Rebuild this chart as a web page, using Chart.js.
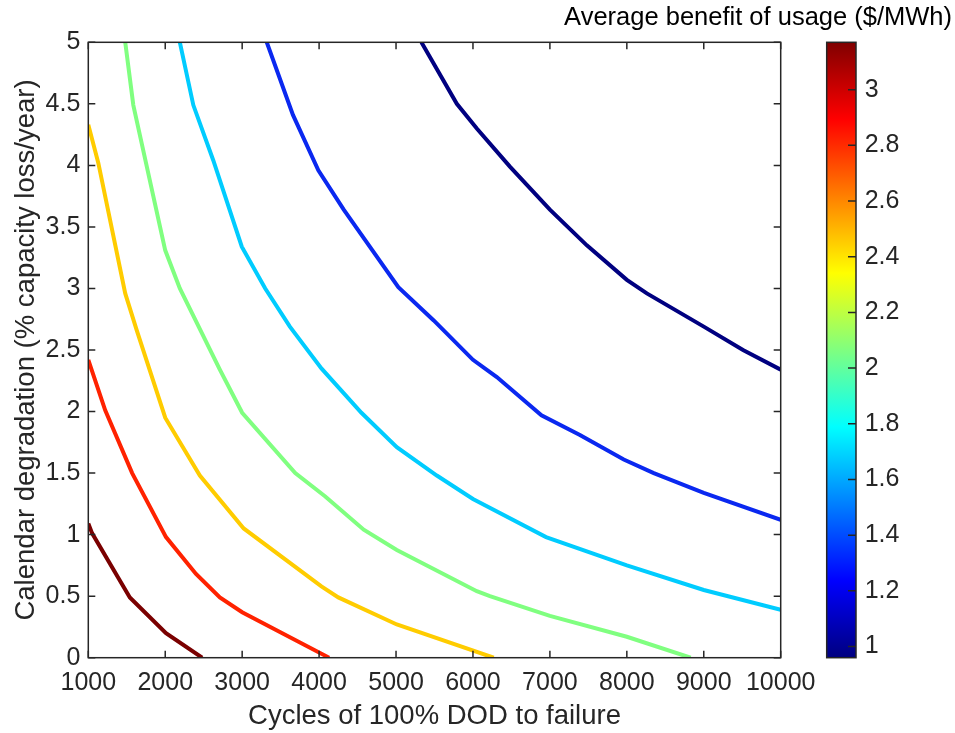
<!DOCTYPE html>
<html lang="en">
<head>
    <meta charset="UTF-8">
    <title>Average benefit of usage contours</title>
    <script src="https://cdn.jsdelivr.net/npm/chart.js"></script>
    <style>
        body { margin: 0; background: #fff; }
        #wrap { width: 955px; height: 733px; }
    </style>
</head>
<body>
    <div id="wrap"><canvas id="myChart" width="955" height="733"></canvas></div>

    <script>
        // Contour lines (x = cycles, y = % loss/year)
        const lvl100X = [5330, 5790, 6050, 6480, 7000, 7480, 8000, 8260, 9000, 9510, 10000];
        const lvl100Y = [5.0, 4.50, 4.30, 3.99, 3.64, 3.35, 3.07, 2.96, 2.69, 2.50, 2.34];

        const lvl135X = [3320, 3660, 3990, 4320, 5030, 5490, 6000, 6310, 6890, 7390, 7960, 8350, 9000, 10000];
        const lvl135Y = [5.0, 4.41, 3.96, 3.64, 3.01, 2.74, 2.42, 2.28, 1.97, 1.81, 1.61, 1.50, 1.34, 1.12];

        const lvl170X = [2190, 2365, 2625, 2995, 3300, 3620, 4030, 4550, 5010, 5530, 6000, 6950, 8000, 9000, 10000];
        const lvl170Y = [5.0, 4.49, 4.04, 3.34, 3.0, 2.69, 2.35, 1.99, 1.71, 1.48, 1.29, 0.98, 0.75, 0.55, 0.39];

        const lvl205X = [1480, 1585, 2000, 2190, 2710, 3000, 3690, 4080, 4580, 5010, 6050, 6220, 7000, 8000, 8830];
        const lvl205Y = [5.0, 4.49, 3.31, 3.0, 2.34, 1.99, 1.50, 1.31, 1.04, 0.875, 0.54, 0.50, 0.34, 0.17, 0.0];

        const lvl240X = [1000, 1130, 1480, 1630, 2000, 2450, 3020, 4030, 4250, 5010, 6270];
        const lvl240Y = [4.33, 4.02, 2.96, 2.66, 1.95, 1.48, 1.05, 0.58, 0.49, 0.27, 0.0];

        const lvl275X = [1000, 1220, 1570, 2010, 2400, 2710, 3000, 4130];
        const lvl275Y = [2.42, 2.01, 1.50, 0.98, 0.68, 0.49, 0.37, 0.0];

        const lvl310X = [1000, 1050, 1540, 2010, 2480];
        const lvl310Y = [1.09, 1.01, 0.49, 0.20, 0.0];

        const lineColors = ['#000080', '#0a28f0', '#00ccff', '#80ff80', '#ffcc00', '#ff2200', '#7a0000'];

        // colorbar
        const cbMin = 0.96;
        const cbMax = 3.17;
        const cbTicks = [1, 1.2, 1.4, 1.6, 1.8, 2, 2.2, 2.4, 2.6, 2.8, 3];
        const xTicks = [1000, 2000, 3000, 4000, 5000, 6000, 7000, 8000, 9000, 10000];
        const yTicks = [0, 0.5, 1, 1.5, 2, 2.5, 3, 3.5, 4, 4.5, 5];

        const axisColor = '#262626';

        function toPoints(xs, ys) {
            return xs.map((x, i) => ({ x: x, y: ys[i] }));
        }

        const series = [
            [lvl100X, lvl100Y], [lvl135X, lvl135Y], [lvl170X, lvl170Y], [lvl205X, lvl205Y],
            [lvl240X, lvl240Y], [lvl275X, lvl275Y], [lvl310X, lvl310Y]
        ];

        const datasets = series.map((s, i) => ({
            data: toPoints(s[0], s[1]),
            borderColor: lineColors[i],
            borderWidth: 4,
            pointRadius: 0,
            showLine: true,
            tension: 0,
            clip: 0
        }));

        // frame, inward ticks, colorbar and its label
        const matlabAxes = {
            id: 'matlabAxes',
            afterDraw(chart) {
                const c = chart.ctx;
                const a = chart.chartArea;
                const xs = chart.scales.x, ys = chart.scales.y, cb = chart.scales.cb;
                c.save();
                c.strokeStyle = axisColor;
                c.lineWidth = 1.5;
                c.strokeRect(a.left, a.top, a.right - a.left, a.bottom - a.top);
                c.beginPath();
                xTicks.forEach(v => {
                    const p = xs.getPixelForValue(v);
                    c.moveTo(p, a.bottom); c.lineTo(p, a.bottom - 7);
                    c.moveTo(p, a.top); c.lineTo(p, a.top + 7);
                });
                yTicks.forEach(v => {
                    const p = ys.getPixelForValue(v);
                    c.moveTo(a.left, p); c.lineTo(a.left + 7, p);
                    c.moveTo(a.right, p); c.lineTo(a.right - 7, p);
                });
                c.stroke();

                // colorbar (jet)
                const bx = cb.left + 46, bw = 29.3;
                const top = cb.getPixelForValue(cbMax), bot = cb.getPixelForValue(cbMin);
                const g = c.createLinearGradient(0, bot, 0, top);
                g.addColorStop(0, 'rgb(0,0,128)');
                g.addColorStop(0.125, 'rgb(0,0,255)');
                g.addColorStop(0.375, 'rgb(0,255,255)');
                g.addColorStop(0.625, 'rgb(255,255,0)');
                g.addColorStop(0.875, 'rgb(255,0,0)');
                g.addColorStop(1, 'rgb(128,0,0)');
                c.fillStyle = g;
                c.fillRect(bx, top, bw, bot - top);
                c.strokeRect(bx, top, bw, bot - top);
                c.beginPath();
                cbTicks.forEach(v => {
                    const p = cb.getPixelForValue(v);
                    c.moveTo(bx + bw, p); c.lineTo(bx + bw - 8, p);
                });
                c.stroke();

                c.fillStyle = '#000';
                c.font = '25.5px "Liberation Sans", Arial, sans-serif';
                c.textAlign = 'right';
                c.textBaseline = 'alphabetic';
                c.fillText('Average benefit of usage ($/MWh)', 952, 25);
                c.restore();
            }
        };

        const tickFont = { family: '"Liberation Sans", Arial, sans-serif', size: 25 };
        const titleFont = { family: '"Liberation Sans", Arial, sans-serif', size: 27.5 };

        const ctx = document.getElementById('myChart').getContext('2d');
        const myChart = new Chart(ctx, {
            type: 'scatter',
            data: { datasets: datasets },
            plugins: [matlabAxes],
            options: {
                responsive: false,
                animation: false,
                events: [],
                layout: { padding: { top: 42.3, right: 0, bottom: 0, left: 0 } },
                plugins: { legend: { display: false }, tooltip: { enabled: false } },
                scales: {
                    x: {
                        type: 'linear',
                        min: 1000,
                        max: 10000,
                        grid: { display: false, drawTicks: false },
                        border: { display: false },
                        afterBuildTicks: s => { s.ticks = xTicks.map(v => ({ value: v })); },
                        afterFit: s => { s.height = 75.3; },
                        ticks: {
                            padding: 10,
                            color: axisColor,
                            font: tickFont,
                            maxRotation: 0,
                            callback: v => String(v)
                        },
                        title: {
                            display: true,
                            text: 'Cycles of 100% DOD to failure',
                            color: axisColor,
                            font: titleFont,
                            padding: { top: 0, bottom: 0 }
                        }
                    },
                    y: {
                        type: 'linear',
                        min: 0,
                        max: 5,
                        grid: { display: false, drawTicks: false },
                        border: { display: false },
                        afterBuildTicks: s => { s.ticks = yTicks.map(v => ({ value: v })); },
                        afterFit: s => { s.width = 88.3; s.paddingTop = 0; s.paddingBottom = 0; },
                        ticks: {
                            padding: 8,
                            color: axisColor,
                            font: tickFont,
                            callback: v => String(v)
                        },
                        title: {
                            display: true,
                            text: 'Calendar degradation (% capacity loss/year)',
                            color: axisColor,
                            font: titleFont,
                            padding: { top: 10, bottom: 0 }
                        }
                    },
                    cb: {
                        type: 'linear',
                        position: 'right',
                        min: cbMin,
                        max: cbMax,
                        grid: { display: false, drawTicks: false },
                        border: { display: false },
                        afterBuildTicks: s => { s.ticks = cbTicks.map(v => ({ value: v })); },
                        afterFit: s => { s.width = 174.3; s.paddingTop = 0; s.paddingBottom = 0; },
                        ticks: {
                            padding: 84,
                            color: axisColor,
                            font: tickFont,
                            callback: v => String(v)
                        }
                    }
                }
            }
        });
    </script>
</body>
</html>
